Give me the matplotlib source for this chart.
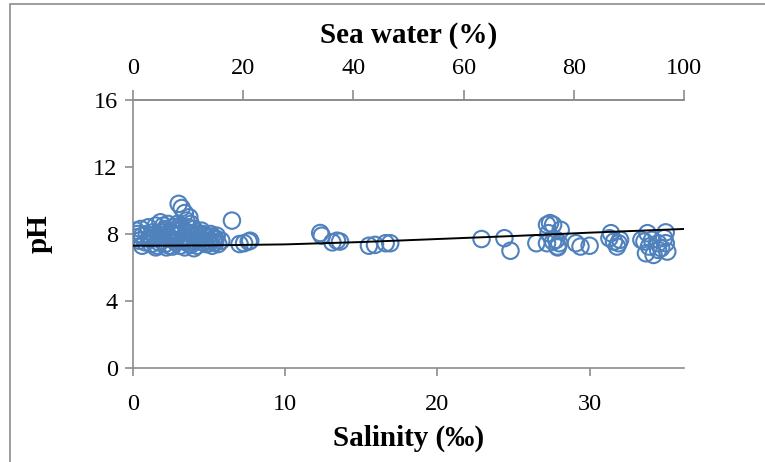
from matplotlib import pyplot as plt
from matplotlib.patches import Rectangle

# salinity (per mille) and pH of the samples
salinity = [0.2, 0.2, 0.3, 0.4, 0.5, 0.6, 0.8, 1.0, 1.1, 1.2, 1.3, 1.4, 1.5, 1.6,
            1.7, 1.8, 1.9, 2.0, 2.1, 2.2, 2.3, 2.4, 2.5, 2.6, 2.7, 2.8, 2.9, 3.0,
            3.1, 3.2, 3.2, 3.3, 3.4, 3.5, 3.5, 3.6, 3.7, 3.7, 3.8, 3.9, 4.0, 4.1,
            4.2, 4.3, 4.4, 4.5, 4.6, 4.7, 4.8, 4.9, 5.0, 5.1, 5.2, 5.3, 5.4, 5.5,
            5.6, 5.8, 2.2, 2.6, 1.5, 3.4, 4.0, 2.9, 2.0, 3.0,
            0.9, 1.2, 1.7, 2.1, 2.4, 2.8, 3.3, 3.6, 4.2, 4.6, 5.0, 5.4, 1.9, 2.6,
            3.8, 4.4, 0.6, 1.4, 5.2, 3.1,
            6.5, 7.0, 7.3, 7.6, 7.7,
            12.3, 12.4, 13.1, 13.4, 13.6, 15.5, 15.9, 16.6, 16.9,
            22.9, 24.4, 24.8, 26.5, 27.2, 27.4, 27.3, 27.2, 27.6, 27.9,
            27.6, 28.1, 27.8, 28.0, 27.9, 29.1, 29.4, 30.0,
            31.4, 31.3, 31.6, 31.9, 31.8, 32.0,
            33.4, 33.6, 33.8, 33.9, 33.7, 34.2, 34.5, 34.7, 35.0, 35.0, 35.1,
            34.9, 34.1, 34.5]
ph = [8.2, 7.8, 8.0, 7.6, 8.3, 7.9, 7.5, 8.4, 7.7, 7.4, 8.1, 7.8, 8.5, 7.3,
      8.0, 8.7, 7.6, 8.2, 7.4, 7.9, 8.6, 7.3, 8.1, 7.7, 8.4, 7.5, 8.0, 9.8,
      7.3, 9.55, 8.3, 7.8, 9.25, 8.8, 7.5, 8.1, 9.0, 7.4, 8.6, 7.9, 8.3, 7.6,
      7.3, 8.0, 7.7, 8.2, 7.5, 7.9, 7.4, 7.8, 7.6, 8.0, 7.3, 7.7, 7.5, 7.9,
      7.4, 7.6, 7.2, 7.25, 7.2, 7.2, 7.15, 8.6, 8.5, 7.6,
      8.0, 7.7, 7.5, 8.3, 7.8, 8.2, 7.6, 8.4, 7.9, 8.0, 7.45, 7.75, 8.1, 7.95,
      7.35, 7.55, 7.3, 7.95, 7.85, 8.5,
      8.8, 7.4, 7.45, 7.55, 7.6,
      8.06, 7.9, 7.5, 7.6, 7.55, 7.3, 7.35, 7.45, 7.45,
      7.7, 7.75, 7.0, 7.45, 8.55, 8.65, 8.05, 7.45, 7.55, 7.2,
      8.55, 8.25, 7.65, 7.45, 7.25, 7.45, 7.25, 7.3,
      8.05, 7.75, 7.55, 7.45, 7.25, 7.65,
      7.65, 7.55, 8.05, 7.25, 6.85, 6.75, 7.45, 7.15, 8.1, 7.45, 6.95,
      7.75, 7.65, 7.05]

# trend line
trend_x = [0, 5, 10, 15, 20, 25, 30, 36.2]
trend_y = [7.3, 7.32, 7.38, 7.52, 7.7, 7.88, 8.08, 8.3]

x_max = 36.2  # salinity at 100 % sea water
y_ticks = [0, 4, 8, 12, 16]

plt.rcParams['font.family'] = ['Liberation Serif', 'DejaVu Serif']
grey = '#8c8c8c'

fig = plt.figure(figsize=(7.65, 4.62), dpi=100)
ax = fig.add_axes([133 / 765, 94 / 462, 551 / 765, 268 / 462])

ax.scatter(salinity, ph, s=140, facecolors='none', edgecolors='#4f81bd',
           linewidths=1.5, zorder=3)
ax.plot(trend_x, trend_y, color='black', linewidth=1.4, zorder=4)

ax.set_xlim(0, x_max)
ax.set_ylim(0, 16)
ax.set_xticks([0, 10, 20, 30])
ax.set_yticks(y_ticks)

ax.spines['right'].set_visible(False)
for side in ['left', 'bottom', 'top']:
    ax.spines[side].set_color(grey)
    ax.spines[side].set_linewidth(1.2)

ax.tick_params(axis='both', colors=grey, labelcolor='black', labelsize=17.5,
               length=6, width=1.2, direction='out')
ax.tick_params(axis='x', pad=13)
ax.tick_params(axis='y', pad=5)

top = ax.secondary_xaxis('top', functions=(lambda s: s * 100 / x_max,
                                           lambda p: p * x_max / 100))
top.set_xticks([0, 20, 40, 60, 80, 100])
top.spines['top'].set_color(grey)
top.spines['top'].set_linewidth(1.2)
top.tick_params(colors=grey, labelcolor='black', labelsize=17.5,
                length=7, width=1.2, direction='out', pad=8)
top.set_xlabel('Sea water (%)', fontsize=21, fontweight='bold', labelpad=11)

ax.set_xlabel('Salinity (\u2030)', fontsize=21, fontweight='bold', labelpad=7)
ax.set_ylabel('pH', fontsize=21, fontweight='bold', labelpad=29)

# chart border
fig.patches.append(Rectangle((10 / 765, -0.1), 1.2, 1.1 - 4 / 462,
                             transform=fig.transFigure, fill=False,
                             edgecolor=grey, linewidth=1.2))

fig.savefig('out.png', dpi=100)
